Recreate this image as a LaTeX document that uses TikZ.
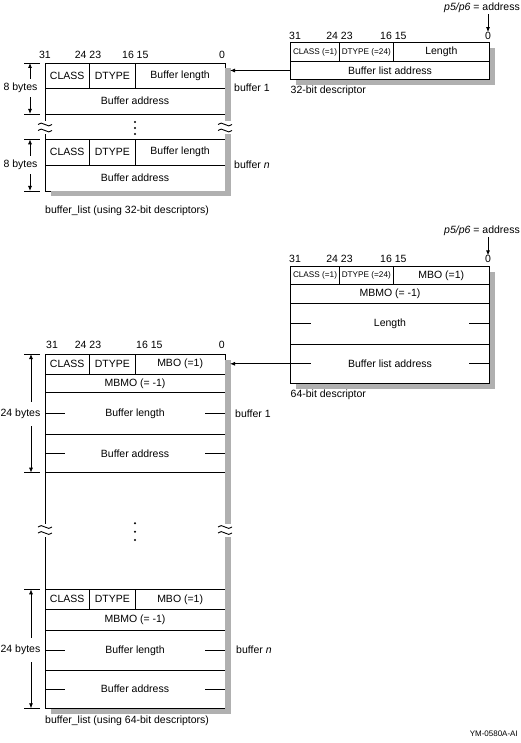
\documentclass[tikz,border=0pt]{standalone}
\usepackage{fontspec}
\setmainfont{Liberation Sans}
\usetikzlibrary{arrows.meta}
\definecolor{shadowgray}{RGB}{176,176,176}
\newcommand\mainsz{\fontsize{10.5}{12}\selectfont}
\newcommand\smallsz{\fontsize{8.2}{10}\selectfont}
\newcommand\tinysz{\fontsize{8}{9}\selectfont}
\newcommand\mcell[6]{\node[cellbox, minimum width={(#4)-(#2)}, minimum height={(#5)-(#3)}] (#1) at ({((#2)+(#4))/2},{((#3)+(#5))/2}) {#6};}
\newcommand\sidetick[1]{\draw[thinline] (#1.west) -- ++(20,0); \draw[thinline] (#1.east) -- ++(-20,0);}
\newcommand\brk[3]{\fill[white] ({#1-2.5},{#2-6.5}) rectangle ({#1+#3},{#2+6.5});
  \draw[line width=0.9pt] ({#1-7},{#2-3}) .. controls ({#1-3.5},{#2-8}) and ({#1+3.5},{#2+2}) .. ({#1+7},{#2-3});
  \draw[line width=0.9pt] ({#1-7},{#2+3}) .. controls ({#1-3.5},{#2-2}) and ({#1+3.5},{#2+8}) .. ({#1+7},{#2+3});}
% shadow strips: right strip and bottom strip of a box (x1,y1)-(x2,y2), offset 5.5
\newcommand\shadowL[4]{\fill[shadowgray] ({#3+0.45},{#2+5.5}) rectangle ({#3+6},{#4+5.5});
  \fill[shadowgray] ({#1+5.5},{#4+0.45}) rectangle ({#3+6},{#4+5.5});}
\tikzset{
  cellbox/.style={draw, fill=white, inner sep=0pt, outer sep=0pt, line width=0.8pt, font=\mainsz},
  lbl/.style={inner sep=1pt, font=\mainsz},
  bits/.style={inner sep=0pt, font=\mainsz},
  dimlbl/.style={inner xsep=1pt, inner ysep=4pt, fill=white, font=\mainsz},
  conn/.style={line width=0.8pt, -{Latex[length=5pt,width=4pt]}},
  dimline/.style={line width=0.8pt, {Latex[length=5pt,width=4pt]}-{Latex[length=5pt,width=4pt]}},
  thinline/.style={line width=0.8pt},
}
\begin{document}
\begin{tikzpicture}[x=1pt,y=-1pt]
\fill[white] (0,0) rectangle (521,743);
\useasboundingbox (0,0) rectangle (521,743);

% ===== Block A: buffer_list (32-bit descriptors) =====
\mcell{listA}{45}{63}{225}{191}{}
\mcell{a1c}{45}{63}{89.3}{88}{CLASS}
\mcell{a1d}{89.3}{63}{135.3}{88}{DTYPE}
\mcell{a1l}{135.3}{63}{225}{88}{Buffer length}
\mcell{a2}{45}{88}{225}{114}{Buffer address}
\mcell{a3c}{45}{139.3}{89.3}{165}{CLASS}
\mcell{a3d}{89.3}{139.3}{135.3}{165}{DTYPE}
\mcell{a3l}{135.3}{139.3}{225}{165}{Buffer length}
\mcell{a4}{45}{165}{225}{191}{Buffer address}
\node[bits] (aB31) at (45,55) {31};
\node[bits] (aB24) at (88,55) {24 23};
\node[bits] (aB16) at (135.3,55) {16 15};
\node[bits] (aB0) at (222,55) {0};
\coordinate (aT1) at (30,63); \coordinate (aM1) at (30,114);
\coordinate (aT2) at (30,139.3); \coordinate (aM2) at (30,191);
\draw[thinline] (24,63) -- (40,63) (24,114) -- (40,114) (24,139.3) -- (40,139.3) (24,191) -- (40,191);
\draw[dimline] (aT1) -- (aM1);
\draw[dimline] (aT2) -- (aM2);
\node[dimlbl] (aD1) at (20.5,88) {8 bytes};
\node[dimlbl] (aD2) at (20.5,165) {8 bytes};
\node[lbl, anchor=west] (bufA1) at (233,88) {buffer 1};
\node[lbl, anchor=west] (bufAn) at (233,165) {buffer \textit{n}};
\node[lbl, anchor=west] (capA) at (44,210.7) {buffer\_list (using 32-bit descriptors)};

% ===== Block B: 32-bit descriptor =====
\mcell{b1c}{290.7}{42.7}{339.3}{61.7}{\smallsz CLASS (=1)}
\mcell{b1d}{339.3}{42.7}{393.3}{61.7}{\smallsz DTYPE (=24)}
\mcell{b1l}{393.3}{42.7}{489.3}{61.7}{Length}
\mcell{b2}{290.7}{61.7}{489.3}{79.3}{Buffer list address}
\node[bits, anchor=west] (bB31) at (289,36) {31};
\node[bits] (bB24) at (339.5,36) {24 23};
\node[bits] (bB16) at (393.3,36) {16 15};
\node[bits] (bB0) at (488,36) {0};
\node[lbl, anchor=east] (addrB) at (521,8) {\textit{p5/p6} = address};
\draw[conn] (addrB.south -| bB0) -- (bB0.north);
\node[lbl, anchor=west] (capB) at (289.5,90.7) {32-bit descriptor};

% ===== Block C: 64-bit descriptor =====
\mcell{c1c}{290.7}{266.7}{339.3}{284.3}{\smallsz CLASS (=1)}
\mcell{c1d}{339.3}{266.7}{393.3}{284.3}{\smallsz DTYPE (=24)}
\mcell{c1m}{393.3}{266.7}{489.3}{284.3}{MBO (=1)}
\mcell{c2}{290.7}{284.3}{489.3}{303.3}{MBMO (= -1)}
\mcell{c3}{290.7}{303.3}{489.3}{344.3}{Length}
\mcell{c4}{290.7}{344.3}{489.3}{383.3}{Buffer list address}
\sidetick{c3} \sidetick{c4}
\node[bits, anchor=west] (cB31) at (289,259.3) {31};
\node[bits] (cB24) at (339.5,259.3) {24 23};
\node[bits] (cB16) at (393.3,259.3) {16 15};
\node[bits] (cB0) at (488,259.3) {0};
\node[lbl, anchor=east] (addrC) at (521,231) {\textit{p5/p6} = address};
\draw[conn] (addrC.south -| cB0) -- (cB0.north);
\node[lbl, anchor=west] (capC) at (289.5,394.3) {64-bit descriptor};

% ===== Block D: buffer_list (64-bit descriptors) =====
\mcell{listD}{45}{354}{225}{708.3}{}
\mcell{d1c}{45}{354}{89.3}{374.3}{CLASS}
\mcell{d1d}{89.3}{354}{135.3}{374.3}{DTYPE}
\mcell{d1m}{135.3}{354}{225}{374.3}{MBO (=1)}
\mcell{d2}{45}{374.3}{225}{392.7}{MBMO (= -1)}
\mcell{d3}{45}{392.7}{225}{434.3}{Buffer length}
\mcell{d4}{45}{434.3}{225}{472.7}{Buffer address}
\mcell{d5c}{45}{589.3}{89.3}{609.3}{CLASS}
\mcell{d5d}{89.3}{589.3}{135.3}{609.3}{DTYPE}
\mcell{d5m}{135.3}{589.3}{225}{609.3}{MBO (=1)}
\mcell{d6}{45}{609.3}{225}{630.7}{MBMO (= -1)}
\mcell{d7}{45}{630.7}{225}{670}{Buffer length}
\mcell{d8}{45}{670}{225}{708.3}{Buffer address}
\sidetick{d3} \sidetick{d4} \sidetick{d7} \sidetick{d8}
\node[bits, anchor=west] (dB31) at (46,345) {31};
\node[bits] (dB24) at (88,345) {24 23};
\node[bits, anchor=west] (dB16) at (136,345) {16 15};
\node[bits, anchor=east] (dB0) at (225,345) {0};
\coordinate (dT1) at (31,354); \coordinate (dM1) at (31,472.7);
\coordinate (dT2) at (31,589.3); \coordinate (dM2) at (31,708.3);
\draw[thinline] (24,354) -- (40,354) (24,472.7) -- (40,472.7) (24,589.3) -- (40,589.3) (24,708.3) -- (40,708.3);
\draw[dimline] (dT1) -- (dM1);
\draw[dimline] (dT2) -- (dM2);
\node[dimlbl, inner ysep=7pt] (dD1) at (20.5,414) {24 bytes};
\node[dimlbl, inner ysep=7pt] (dD2) at (20.5,650) {24 bytes};
\node[lbl, anchor=west] (bufD1) at (234,414) {buffer 1};
\node[lbl, anchor=west] (bufDn) at (235,650) {buffer \textit{n}};
\node[lbl, anchor=west] (capD) at (44,720.7) {buffer\_list (using 64-bit descriptors)};

\node[lbl, anchor=east, font=\tinysz] (fig) at (519,734) {YM-0580A-AI};

% ===== shadows (drawn last, then breaks and connectors on top) =====
\shadowL{45}{63}{225}{191}
\shadowL{290.7}{42.7}{489.3}{79.3}
\shadowL{290.7}{266.7}{489.3}{383.3}
\shadowL{45}{354}{225}{708.3}

\brk{45}{127.5}{2.5}
\brk{225}{127.5}{7}
\brk{45}{530}{2.5}
\brk{225}{530}{7}
\fill (135,122) circle (1.1) (135,128) circle (1.1) (135,134) circle (1.1);
\fill (135,523.3) circle (1.1) (135,531.7) circle (1.1) (135,540) circle (1.1);

\draw[conn] (b2.west) -- ([xshift=5pt]a1l.east |- b2.west);
\draw[conn] (c4.west) -- ([xshift=5pt]d1m.east |- c4.west);
\end{tikzpicture}
\end{document}
